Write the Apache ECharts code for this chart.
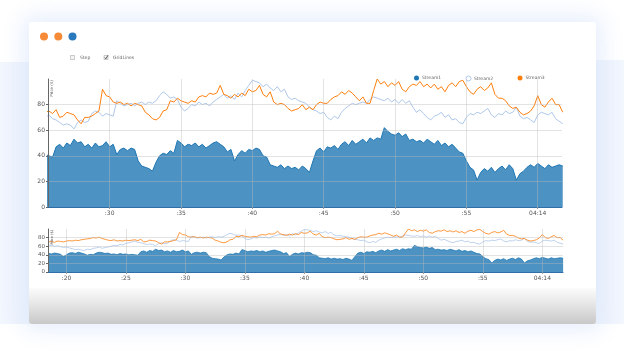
<!DOCTYPE html>
<html><head><meta charset="utf-8">
<script src="https://cdn.jsdelivr.net/npm/echarts@6/dist/echarts.min.js"></script>
<style>
html,body{margin:0;padding:0;background:#fff;}
#wrap{position:relative;width:624px;height:361px;overflow:hidden;background:#fff;}
.glow{position:absolute;background:#e9f0fc;}
#card{position:absolute;left:29px;top:22px;width:567px;height:302px;background:#fff;border-radius:3px;box-shadow:0 0 22px 6px rgba(222,232,251,0.75);overflow:hidden;}
#shade{position:absolute;left:0;bottom:0;width:100%;height:36px;background:linear-gradient(to bottom,#fbfbfb 0%,#ebebeb 35%,#c8c8c8 100%);}
#chart{position:absolute;left:0;top:0;width:624px;height:361px;}
</style></head>
<body><div id="wrap">
<div class="glow" style="left:0;top:62px;width:40px;height:262px;background:linear-gradient(to right,#f3f7fe,#e7effc);"></div>
<div class="glow" style="left:584px;top:60px;width:40px;height:264px;background:linear-gradient(to left,#f3f7fe,#e7effc);"></div>
<div id="card"><div id="shade"></div></div>
<div id="chart"></div>
</div>
<script>
const startSec = 18.5, stepSec = 0.25;
const seriesNames = ['Stream1','Stream2','Stream3'];
const stream1 = [
43,42,44,43, 41,36,40,44, 45,43,46,44, 42,39,41,40, 44,46,45,43, 44,41,42,40, 43,41,42,40,
41,40,39,47, 49,46,50,48, 53,50,51,47, 49,46,50,47, 48,51,47,49, 41,45,46,44, 46,45,36,32,
31,30,28,35, 40,42,41,44, 42,52,50,47, 49,48,50,47, 49,46,48,50, 51,49,47,43, 45,36,41,44,
42,45,44,46, 45,40,39,33, 32,31,33,30, 32,30,31,29, 32,30,27,36, 44,46,43,47, 46,48,45,49,
51,48,52,49, 51,53,50,54, 52,54,53,62, 59,57,56,58, 55,57,52,53, 51,52,50,53, 51,49,52,48,
50,47,49,46, 43,42,36,31, 29,21,27,30, 28,31,27,30, 32,29,33,30, 21,26,28,31, 33,31,34,32,
30,33,31,32, 33,32];
const stream2 = [
61,62,60,61, 59,57,58,56, 54,52,53,51, 50,53,52,55, 56,58,55,57, 58,60,62,61, 64,63,67,68,
70,72,69,68, 66,64,65,64, 61,66,68,66, 67,73,75,74, 71,73,72,71, 83,81,79,80, 81,79,81,82,
80,82,81,83, 87,90,88,85, 86,84,78,75, 77,80,79,82, 80,81,79,82, 84,86,88,85, 87,84,89,86,
91,95,99,98, 97,94,96,93, 91,94,90,92, 86,84,85,83, 82,81,78,76, 75,73,74,70, 68,71,69,74,
77,79,81,80, 81,82,81,84, 86,85,84,83, 85,82,84,81, 84,81,83,78, 74,76,73,70, 68,71,72,74,
70,72,68,69, 66,65,70,73, 72,74,73,75, 77,72,70,73, 72,75,73,74, 78,71,69,70, 68,66,72,74,
73,72,74,69, 67,65];
const stream3 = [
70,71,69,72, 71,70,72,73, 72,74,73,75, 76,77,78,80, 79,81,78,76, 74,73,75,72, 73,72,74,73,
74,75,73,76, 70,71,74,73, 72,68,65,70, 70,71,73,75, 92,87,86,82, 81,82,80,81, 79,81,80,79,
74,72,69,68, 70,75,76,83, 82,85,83,82, 81,83,82,86, 87,86,89,88, 89,95,88,87, 85,88,86,89,
87,92,90,91, 95,88,86,90, 82,80,81,80, 77,75,76,77, 80,76,78,76, 80,82,81,81, 84,86,87,90,
88,91,89,86, 83,86,81,81, 91,100,96,98, 94,97,95,98, 92,90,94,96, 95,98,94,96, 93,96,92,94,
90,95,97,94, 98,99,94,90, 88,92,94,91, 93,97,88,85, 85,83,79,77, 78,74,72,73, 75,79,87,80,
78,82,85,80, 80,74];
const topTicks = [30,35,40,45,50,55,60];
const bottomTicks = [20,25,30,35,40,45,50,55,60];
const topRange = [25.68, 61.7];
const bottomRange = [18.45, 61.74];
const colors = ['#1f77b4','#aec7e8','#ff7f0e'];

function pairs(arr){ return arr.map((v,i)=>[startSec+i*stepSec, v]); }
function fmt(v){ return v===60 ? '04:14' : ':' + v; }

const chart = echarts.init(document.getElementById('chart'), null, {renderer:'canvas'});
const grids = [
  {left:48, top:79, width:514, height:128},
  {left:48, top:229, width:515, height:43}
];
function xAxisFor(idx, range, ticks){
  return {
    type:'value', gridIndex:idx, min:range[0], max:range[1], z:5,
    axisLine:{show:true, lineStyle:{color:'#2f6ea6', width:1}},
    axisTick:{show:true, customValues:ticks, length:2, lineStyle:{color:'#999'}},
    axisLabel:{customValues:ticks, formatter:fmt, fontSize:6, color:'#555', margin:3, fontFamily:'DejaVu Sans'},
    splitLine:{show:true, lineStyle:{color:'rgba(185,185,185,0.4)', width:1}}
  };
}
function yAxisFor(idx, fs){
  return {
    type:'value', gridIndex:idx, min:0, max:100, interval:20, z:5,
    axisLine:{show:true, lineStyle:{color:'#666', width:1}},
    axisTick:{show:true, length:2, lineStyle:{color:'#666'}},
    axisLabel:{fontSize:fs, color:'#555', margin:3, showMaxLabel:false, fontFamily:'DejaVu Sans'},
    splitLine:{show:true, showMaxLine:false, showMinLine:false, lineStyle:{color:'rgba(185,185,185,0.4)', width:1}}
  };
}
const series = [];
[0,1].forEach(g=>{
  const w = g===0 ? 1 : 0.8;
  series.push({name:'Stream1', type:'line', xAxisIndex:g, yAxisIndex:g, data:pairs(stream1), symbol:'none',
    lineStyle:{color:colors[0], width:w}, itemStyle:{color:colors[0]}, areaStyle:{color:colors[0], opacity:0.8}, z:2});
  series.push({name:'Stream2', type:'line', xAxisIndex:g, yAxisIndex:g, data:pairs(stream2), symbol:'none',
    lineStyle:{color:colors[1], width:w}, itemStyle:{color:colors[1]}, z:3});
  series.push({name:'Stream3', type:'line', xAxisIndex:g, yAxisIndex:g, data:pairs(stream3), symbol:'none',
    lineStyle:{color:colors[2], width:w}, itemStyle:{color:colors[2]}, z:4});
});
function legendFor(name, left, hollow, color){
  return {
    data:[{name:name, icon:'circle', itemStyle: hollow ? {color:'#fff', borderColor:color, borderWidth:1} : {color:color}}],
    left:left, top:70.5, itemWidth:5, itemHeight:5, selectedMode:false,
    textStyle:{fontSize:4.5, color:'#666', fontFamily:'DejaVu Sans', padding:[0,0,0,-2]}
  };
}
const graphic = [
  {type:'circle', shape:{cx:44, cy:36.5, r:4}, style:{fill:'#f68a36'}},
  {type:'circle', shape:{cx:58.3, cy:36.5, r:4}, style:{fill:'#f68a36'}},
  {type:'circle', shape:{cx:72.5, cy:36.5, r:4}, style:{fill:'#2a79bd'}},
  {type:'rect', shape:{x:70.5, y:55.5, width:4, height:4}, style:{fill:'#f4f4f4', stroke:'#aaa', lineWidth:0.6}},
  {type:'text', x:80, y:57.8, style:{text:'Step', fontSize:4.5, fill:'#666', verticalAlign:'middle', fontFamily:'DejaVu Sans'}},
  {type:'rect', shape:{x:104, y:55.5, width:4, height:4}, style:{fill:'#f4f4f4', stroke:'#aaa', lineWidth:0.6}},
  {type:'polyline', shape:{points:[[104.8,57.6],[105.8,58.8],[108,55.3]]}, style:{stroke:'#333', lineWidth:0.8, fill:null}},
  {type:'text', x:113, y:57.8, style:{text:'GridLines', fontSize:4.5, fill:'#666', verticalAlign:'middle', fontFamily:'DejaVu Sans'}},
  {type:'text', x:50, y:80, rotation:Math.PI/2, z:10, style:{text:'Price ($)', fontSize:4, fill:'#555', align:'right', verticalAlign:'top', fontFamily:'DejaVu Sans'}},
  {type:'text', x:50, y:230, rotation:Math.PI/2, z:10, style:{text:'Price ($)', fontSize:3.5, fill:'#555', align:'right', verticalAlign:'top', fontFamily:'DejaVu Sans'}}
];
chart.setOption({
  animation:false,
  backgroundColor:'transparent',
  grid:grids,
  xAxis:[xAxisFor(0, topRange, topTicks), xAxisFor(1, bottomRange, bottomTicks)],
  yAxis:[yAxisFor(0, 6), yAxisFor(1, 5.5)],
  legend:[legendFor('Stream1', 409, false, colors[0]), legendFor('Stream2', 460.5, true, colors[1]), legendFor('Stream3', 512.5, false, colors[2])],
  series:series,
  graphic:graphic
});
</script>
</body></html>
